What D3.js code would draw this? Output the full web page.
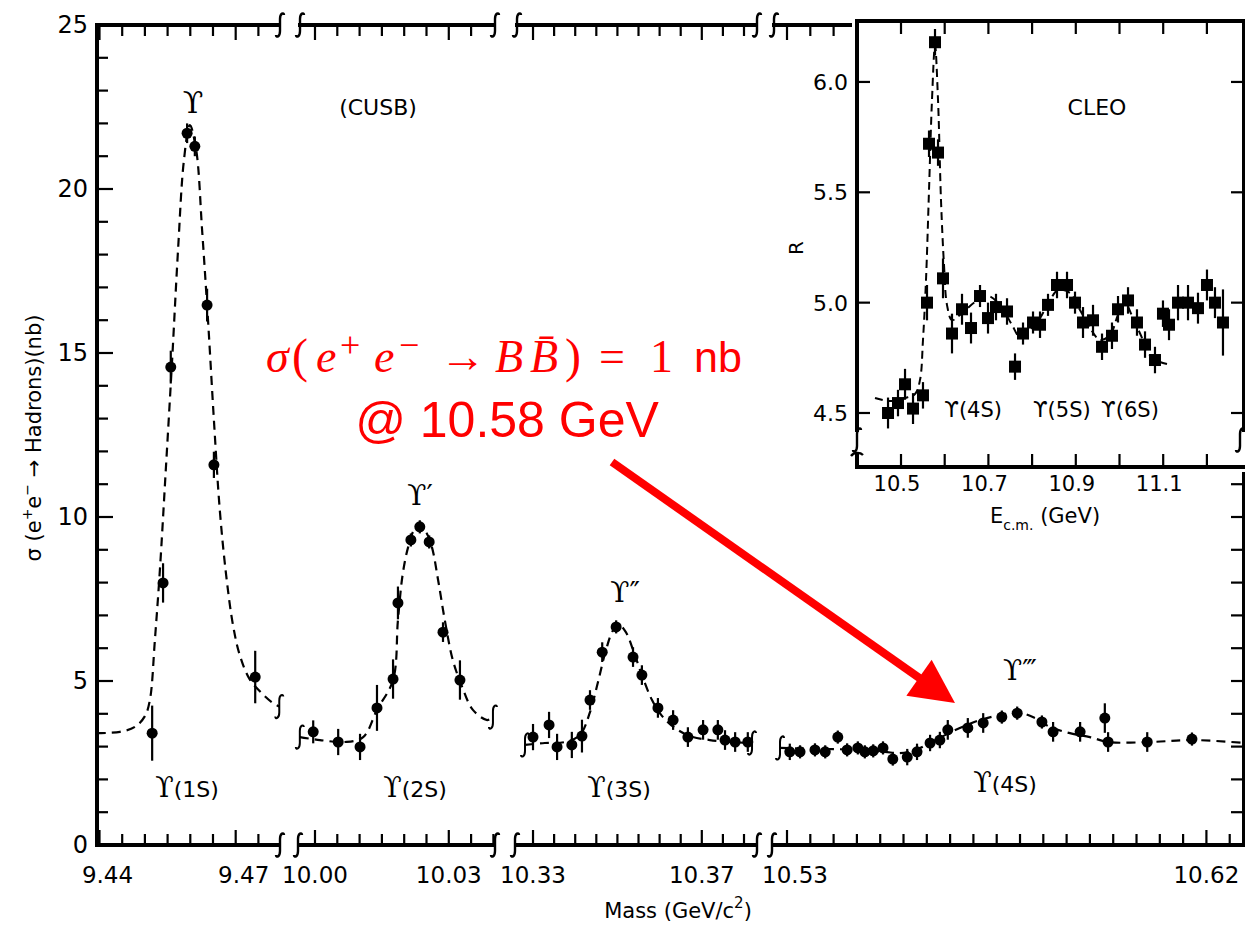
<!DOCTYPE html>
<html><head><meta charset="utf-8">
<script src="https://cdn.jsdelivr.net/npm/d3@7"></script>
<style>body{margin:0;background:#fff}svg{display:block}</style>
</head><body>
<svg id="c" width="1245" height="925"></svg>
<script>
// ---------------- DATA ----------------
// Mass-axis segments (GeV) of the broken axis
const segDomains = [[9.43945, 9.47976], [9.99619, 10.04036], [10.32573, 10.38308], [10.52678, 10.62828]];
const segTickLabels = [[9.44, 9.47], [10.00, 10.03], [10.33, 10.37], [10.53, 10.62]];
const yTickLabels = [0, 5, 10, 15, 20, 25];

// CUSB points: [mass GeV, sigma nb, error nb]
const pts1S = [[9.4516,3.41,0.84],[9.4540,7.99,0.6],[9.4557,14.57,0.5],[9.4593,21.7,0.3],[9.4610,21.3,0.3],[9.4637,16.46,0.5],[9.4652,11.59,0.4],[9.4743,5.12,0.8]];
const pts2S = [[9.9996,3.45,0.35],[10.0052,3.14,0.4],[10.0101,2.99,0.4],[10.0139,4.18,0.7],[10.0175,5.06,0.6],[10.0186,7.38,0.5],[10.0215,9.30,0.2],[10.0235,9.70,0.2],[10.0256,9.24,0.2],[10.0287,6.49,0.3],[10.0325,5.03,0.6]];
const pts3S = [[10.3300,3.29,0.4],[10.3338,3.66,0.4],[10.3357,2.99,0.4],[10.3392,3.05,0.4],[10.3416,3.32,0.5],[10.3435,4.42,0.3],[10.3464,5.88,0.3],[10.3497,6.65,0.2],[10.3537,5.73,0.3],[10.3558,5.18,0.3],[10.3596,4.18,0.3],[10.3632,3.81,0.3],[10.3667,3.29,0.3],[10.3703,3.51,0.3],[10.3738,3.51,0.3],[10.3755,3.20,0.3],[10.3779,3.14,0.3],[10.3809,3.14,0.3]];
const pts4S = [[10.5306,2.84,0.25],[10.5328,2.84,0.2],[10.5360,2.90,0.2],[10.5382,2.84,0.2],[10.5409,3.29,0.2],[10.5429,2.90,0.2],[10.5452,2.96,0.2],[10.5467,2.84,0.2],[10.5485,2.87,0.2],[10.5506,2.96,0.2],[10.5527,2.62,0.2],[10.5558,2.68,0.25],[10.5579,2.84,0.25],[10.5607,3.11,0.25],[10.5628,3.20,0.25],[10.5645,3.51,0.3],[10.5688,3.57,0.3],[10.5721,3.72,0.3],[10.5761,3.90,0.2],[10.5794,4.02,0.2],[10.5847,3.75,0.2],[10.5871,3.45,0.3],[10.5929,3.45,0.3],[10.5982,3.87,0.45],[10.5989,3.14,0.3],[10.6073,3.14,0.3],[10.6169,3.23,0.2]];

// Dashed fit curves: [mass GeV, sigma nb]
const fit1S = [[9.4394,3.41],[9.4445,3.45],[9.4478,3.60],[9.4500,3.93],[9.4511,4.42],[9.4522,6.25],[9.4533,8.38],[9.4546,11.43],[9.4560,14.79],[9.4573,18.14],[9.4586,20.88],[9.4599,21.95],[9.4613,21.19],[9.4626,18.75],[9.4639,16.01],[9.4652,12.96],[9.4665,10.21],[9.4679,8.23],[9.4694,6.71],[9.4709,5.79],[9.4731,5.05],[9.4758,4.62],[9.4780,4.35],[9.4796,4.22]];
const fit2S = [[9.9966,3.29],[10.0011,3.20],[10.0067,3.14],[10.0108,3.29],[10.0139,4.12],[10.0175,5.03],[10.0186,6.86],[10.0197,8.29],[10.0209,9.09],[10.0222,9.60],[10.0235,9.76],[10.0249,9.54],[10.0262,9.09],[10.0276,8.08],[10.0291,6.86],[10.0309,5.64],[10.0330,4.82],[10.0354,4.12],[10.0386,3.81],[10.0399,3.90]];
const fit3S = [[10.3281,3.05],[10.3328,3.11],[10.3376,3.14],[10.3411,3.35],[10.3435,4.05],[10.3454,4.97],[10.3473,5.95],[10.3490,6.55],[10.3504,6.71],[10.3520,6.49],[10.3539,5.88],[10.3558,5.18],[10.3582,4.42],[10.3606,3.93],[10.3636,3.57],[10.3672,3.32],[10.3719,3.20],[10.3767,3.14],[10.3819,3.11]];
const fit4S = [[10.5285,2.96],[10.5371,2.93],[10.5457,2.90],[10.5510,2.84],[10.5542,2.80],[10.5575,2.90],[10.5607,3.11],[10.5639,3.35],[10.5676,3.60],[10.5714,3.81],[10.5757,3.96],[10.5794,4.05],[10.5832,3.87],[10.5864,3.60],[10.5907,3.41],[10.5950,3.29],[10.5989,3.14],[10.6079,3.14],[10.6169,3.20],[10.6283,3.11]];

// CLEO inset: [E_cm GeV, R, error]
const cleoPts = [[10.4703,4.50,0.07],[10.4931,4.545,0.06],[10.5092,4.63,0.07],[10.5275,4.52,0.07],[10.5503,4.58,0.06],[10.5595,5.00,0.08],[10.5641,5.72,0.06],[10.5778,6.18,0.06],[10.5847,5.68,0.06],[10.5961,5.11,0.09],[10.6167,4.86,0.09],[10.6396,4.97,0.07],[10.6602,4.885,0.07],[10.6808,5.03,0.05],[10.6991,4.93,0.07],[10.7174,4.98,0.06],[10.7426,4.96,0.06],[10.7609,4.71,0.06],[10.7792,4.86,0.05],[10.8021,4.91,0.05],[10.8181,4.90,0.06],[10.8364,4.99,0.05],[10.8570,5.08,0.06],[10.8799,5.08,0.06],[10.8982,5.00,0.05],[10.9165,4.91,0.07],[10.9394,4.92,0.07],[10.9600,4.80,0.06],[10.9828,4.85,0.06],[10.9966,4.97,0.06],[11.0195,5.01,0.06],[11.0400,4.91,0.06],[11.0584,4.81,0.06],[11.0812,4.74,0.06],[11.0995,4.95,0.06],[11.1133,4.90,0.07],[11.1339,5.00,0.08],[11.1568,5.00,0.08],[11.1796,4.975,0.07],[11.2002,5.08,0.07],[11.2185,5.00,0.07],[11.2368,4.91,0.15]];
const cleoFit = [[10.4405,4.568],[10.4748,4.554],[10.5092,4.568],[10.5320,4.586],[10.5435,4.650],[10.5503,4.831],[10.5572,5.103],[10.5641,5.510],[10.5709,5.918],[10.5778,6.167],[10.5847,5.918],[10.5915,5.465],[10.5984,5.171],[10.6053,4.989],[10.6167,4.921],[10.6350,4.944],[10.6693,5.003],[10.6991,5.030],[10.7265,4.989],[10.7540,4.899],[10.7723,4.844],[10.7952,4.876],[10.8181,4.930],[10.8410,5.012],[10.8593,5.057],[10.8867,5.044],[10.9096,4.967],[10.9325,4.885],[10.9554,4.831],[10.9783,4.853],[10.9966,4.944],[11.0126,4.998],[11.0309,4.930],[11.0538,4.831],[11.0744,4.749],[11.0927,4.731],[11.1087,4.722]];
const cleoXTickLabels = [10.5, 10.7, 10.9, 11.1];
const cleoYTickLabels = [4.5, 5.0, 5.5, 6.0];
const cleoStates = [["ϒ(4S)", 10.665], ["ϒ(5S)", 10.868], ["ϒ(6S)", 11.024]];

// ---------------- DRAWING ----------------
const svg = d3.select('#c');
const FONT = "'DejaVu Sans', sans-serif";
const SERIF = "'DejaVu Serif', serif";
svg.append('rect').attr('width',1245).attr('height',925).attr('fill','#fff');

const yMain = d3.scaleLinear().domain([0,25]).range([845,25]);
const segPx = [[97,280],[298,495],[515,757],[772,1245]];
const segScales = segDomains.map((d,i)=>d3.scaleLinear().domain(d).range(segPx[i]));
const BOT = yMain(0), TOP = yMain(25);

const gAx = svg.append('g').attr('stroke','#000').attr('fill','none');

function brk(g, x, y, w) {
  w = w || 2.4;
  g.append('path')
   .attr('d', `M${x-4},${y+10} C${x-4},${y+13} ${x},${y+12} ${x},${y+6} L${x},${y-6} C${x},${y-12} ${x+4},${y-13} ${x+4},${y-10}`)
   .attr('stroke','#000').attr('stroke-width',w).attr('fill','none');
}
function stepTicks(d, step) {
  const k0 = Math.ceil(d[0]/step - 1e-6), k1 = Math.floor(d[1]/step + 1e-6);
  return d3.range(k0, k1+1).map(k => +(k*step).toFixed(4));
}

// left axis
gAx.append('line').attr('x1',97).attr('x2',97).attr('y1',TOP-2).attr('y2',BOT+2).attr('stroke-width',4);
d3.range(0,26).forEach(v=>{
  const L = v%5===0 ? 16 : 11;
  gAx.append('line').attr('x1',97).attr('x2',97+L).attr('y1',yMain(v)).attr('y2',yMain(v)).attr('stroke-width',2.2);
});
// right axis (mostly off-canvas)
gAx.append('line').attr('x1',1244).attr('x2',1244).attr('y1',TOP).attr('y2',BOT).attr('stroke-width',4);
d3.range(0,26).forEach(v=>{
  gAx.append('line').attr('x1',1244).attr('x2',1231).attr('y1',yMain(v)).attr('y2',yMain(v)).attr('stroke-width',2.2);
});
svg.append('g').selectAll('text').data(yTickLabels).join('text')
  .attr('x',88).attr('y',d=>yMain(d)+8).attr('text-anchor','end')
  .attr('font-family',FONT).attr('font-size',24).text(d=>d);

// bottom & top broken axes
segScales.forEach((s,i)=>{
  const [a,b] = segPx[i];
  const topEnd = i===3 ? 857 : b;
  gAx.append('line').attr('x1',a).attr('x2',b).attr('y1',BOT).attr('y2',BOT).attr('stroke-width',4);
  gAx.append('line').attr('x1',a).attr('x2',topEnd).attr('y1',TOP).attr('y2',TOP).attr('stroke-width',4);
  stepTicks(s.domain(), 0.005).forEach(t=>{
    const x = s(t);
    if (x < 99) return;
    const lab = segTickLabels[i].some(v=>Math.abs(v-t)<1e-6);
    const L = lab ? 15 : 11;
    gAx.append('line').attr('x1',x).attr('x2',x).attr('y1',BOT).attr('y2',BOT-L).attr('stroke-width',2.2);
    if (x < topEnd-2) gAx.append('line').attr('x1',x).attr('x2',x).attr('y1',TOP).attr('y2',TOP+L).attr('stroke-width',2.2);
  });
  svg.append('g').selectAll('text').data(segTickLabels[i]).join('text')
    .attr('x',d=>s(d)+(i===0||i===3&&d<10.6?8:0)).attr('y',BOT+38).attr('text-anchor','middle')
    .attr('font-family',FONT).attr('font-size',23).text(d=>d.toFixed(2));
  if (i>0) { brk(gAx, a, BOT); brk(gAx, a+2, TOP); }
  if (i<3) { brk(gAx, b, BOT); brk(gAx, b, TOP); }
});

// axis titles
svg.append('text').attr('x',678).attr('y',918).attr('text-anchor','middle')
  .attr('font-family',FONT).attr('font-size',21)
  .html('Mass (GeV/c<tspan dy="-10" font-size="15">2</tspan><tspan dy="10">)</tspan>');
svg.append('text').attr('transform','translate(41,438) rotate(-90)').attr('text-anchor','middle')
  .attr('font-family',FONT).attr('font-size',21)
  .html('σ (e<tspan dy="-9" font-size="14">+</tspan><tspan dy="9">e</tspan><tspan dy="-9" font-size="14">−</tspan><tspan dy="9"> → Hadrons)(nb)</tspan>');

// fits and points
const fits = [fit1S, fit2S, fit3S, fit4S];
const ptsets = [pts1S, pts2S, pts3S, pts4S];
fits.forEach((f,i)=>{
  const s = segScales[i];
  const line = d3.line().x(d=>s(d[0])).y(d=>yMain(d[1])).curve(d3.curveCatmullRom.alpha(0.5));
  svg.append('path').attr('d',line(f)).attr('fill','none').attr('stroke','#000')
    .attr('stroke-width',2.2).attr('stroke-dasharray','9,6');
  const g = svg.append('g');
  if (i>0) brk(g, s(f[0][0]), yMain(f[0][1]), 2);
  if (i<3) brk(g, s(f[f.length-1][0]), yMain(f[f.length-1][1]), 2);
});
ptsets.forEach((P,i)=>{
  const s = segScales[i];
  const g = svg.append('g');
  g.selectAll('line').data(P).join('line')
    .attr('x1',d=>s(d[0])).attr('x2',d=>s(d[0]))
    .attr('y1',d=>yMain(d[1]-d[2])).attr('y2',d=>yMain(d[1]+d[2]))
    .attr('stroke','#000').attr('stroke-width',2.2);
  g.selectAll('circle').data(P).join('circle')
    .attr('cx',d=>s(d[0])).attr('cy',d=>yMain(d[1])).attr('r',5.5).attr('fill','#000');
});

// main labels
function ups(x, y, main, rest, big) {
  const t = svg.append('text').attr('x',x).attr('y',y).attr('text-anchor','middle').attr('font-family',FONT).attr('font-size',22);
  t.append('tspan').attr('font-family',SERIF).attr('font-size',big||27).text(main);
  if (rest) t.append('tspan').text(rest);
}
ups(193,113,'ϒ','',30);
ups(420,505,'ϒ′','',28);
ups(625,602,'ϒ″','',28);
ups(1020,680,'ϒ‴','',28);
ups(187,797,'ϒ','(1S)');
ups(415,797,'ϒ','(2S)');
ups(619,797,'ϒ','(3S)');
ups(1005,792,'ϒ','(4S)');
svg.append('text').attr('x',378).attr('y',115).attr('text-anchor','middle').attr('font-family',FONT).attr('font-size',22).text('(CUSB)');

// ---------------- INSET ----------------
const xIn = d3.scaleLinear().domain([10.3993, 11.2872]).range([857,1245]);
const yIn = d3.scaleLinear().domain([4.2553, 6.2807]).range([467,20]);
const IL = 857, IB = 467, IT = 21;
svg.append('rect').attr('x',852).attr('y',14).attr('width',400).attr('height',458).attr('fill','#fff');
const gi = svg.append('g').attr('stroke','#000').attr('fill','none');
gi.append('line').attr('x1',IL-2).attr('x2',1245).attr('y1',IT).attr('y2',IT).attr('stroke-width',4);
gi.append('line').attr('x1',IL-2).attr('x2',1245).attr('y1',IB).attr('y2',IB).attr('stroke-width',4);
gi.append('line').attr('x1',IL).attr('x2',IL).attr('y1',IT).attr('y2',432).attr('stroke-width',4);
gi.append('line').attr('x1',IL).attr('x2',IL).attr('y1',452).attr('y2',IB).attr('stroke-width',4);
brk(gi, IL, 440, 2.4);
gi.append('path').attr('d',`M${IL-6},456 C${IL-3},452 ${IL+3},452 ${IL+6},455`).attr('stroke-width',2.4);
gi.append('line').attr('x1',1244).attr('x2',1244).attr('y1',IT).attr('y2',432).attr('stroke-width',4);
brk(gi, 1240, 440, 2.4);
stepTicks([10.41, 11.28], 0.1).forEach(t=>{
  gi.append('line').attr('x1',xIn(t)).attr('x2',xIn(t)).attr('y1',IB).attr('y2',IB-13).attr('stroke-width',2.2);
  gi.append('line').attr('x1',xIn(t)).attr('x2',xIn(t)).attr('y1',IT).attr('y2',IT+13).attr('stroke-width',2.2);
});
cleoYTickLabels.forEach(v=>{
  gi.append('line').attr('x1',IL).attr('x2',IL+13).attr('y1',yIn(v)).attr('y2',yIn(v)).attr('stroke-width',2.2);
  gi.append('line').attr('x1',1244).attr('x2',1231).attr('y1',yIn(v)).attr('y2',yIn(v)).attr('stroke-width',2.2);
});
svg.append('g').selectAll('text').data(cleoYTickLabels).join('text')
  .attr('x',848).attr('y',d=>yIn(d)+8).attr('text-anchor','end')
  .attr('font-family',FONT).attr('font-size',22).text(d=>d.toFixed(1));
svg.append('g').selectAll('text').data(cleoXTickLabels).join('text')
  .attr('x',d=>xIn(d)-4).attr('y',491).attr('text-anchor','middle')
  .attr('font-family',FONT).attr('font-size',21).text(d=>d.toFixed(1));
svg.append('text').attr('x',1045).attr('y',523).attr('text-anchor','middle')
  .attr('font-family',FONT).attr('font-size',21)
  .html('E<tspan dy="7" font-size="14">c.m.</tspan><tspan dy="-7"> (GeV)</tspan>');
svg.append('text').attr('transform','translate(803,248) rotate(-90)').attr('text-anchor','middle')
  .attr('font-family',FONT).attr('font-size',20).text('R');
svg.append('text').attr('x',1097).attr('y',115).attr('text-anchor','middle')
  .attr('font-family',FONT).attr('font-size',22).text('CLEO');
svg.append('g').selectAll('text').data(cleoStates).join('text')
  .attr('x',d=>xIn(d[1])).attr('y',417).attr('text-anchor','middle')
  .attr('font-family',FONT).attr('font-size',21).text(d=>d[0]);

const lineIn = d3.line().x(d=>xIn(d[0])).y(d=>yIn(d[1])).curve(d3.curveCatmullRom.alpha(0.5));
svg.append('path').attr('d',lineIn(cleoFit)).attr('fill','none').attr('stroke','#000')
  .attr('stroke-width',2).attr('stroke-dasharray','8,5');
const gp = svg.append('g');
gp.selectAll('line').data(cleoPts).join('line')
  .attr('x1',d=>xIn(d[0])).attr('x2',d=>xIn(d[0]))
  .attr('y1',d=>yIn(d[1]-d[2])).attr('y2',d=>yIn(d[1]+d[2]))
  .attr('stroke','#000').attr('stroke-width',2.2);
gp.selectAll('rect').data(cleoPts).join('rect')
  .attr('x',d=>xIn(d[0])-6).attr('y',d=>yIn(d[1])-6).attr('width',12).attr('height',12).attr('fill','#000');

// ---------------- ANNOTATION ----------------
const red = '#ff0000';
const SER = "'Liberation Serif', serif";
const ann = svg.append('text').attr('fill',red).attr('font-family',SER).attr('font-size',46);
const toks = [
  ['σ',266,372,'italic',46],['(',292,372,'normal',48],['e',316,372,'italic',46],['+',340,357,'normal',36],
  ['e',374,372,'italic',46],['−',399,357,'normal',36],['→',440,372,'normal',46],['B',495,372,'italic',46],
  ['B̄',530,372,'italic',46],[')',565,372,'normal',48],['=',599,372,'normal',46],['1',650,372,'normal',46]
];
toks.forEach(t=>ann.append('tspan').attr('x',t[1]).attr('y',t[2]).attr('font-style',t[3]).attr('font-size',t[4]).text(t[0]));
ann.append('tspan').attr('x',694).attr('y',372).attr('font-family',"'Liberation Sans', sans-serif").attr('font-size',43).text('nb');
svg.append('text').attr('x',507).attr('y',437).attr('text-anchor','middle').attr('fill',red)
  .attr('font-family',"'Liberation Sans', sans-serif").attr('font-size',50).text('@ 10.58 GeV');
// arrow
const aS = [612,462], aT = [955,703];
const ux = (aT[0]-aS[0]), uy = (aT[1]-aS[1]); const ln = Math.hypot(ux,uy);
const u = [ux/ln, uy/ln], n = [-u[1], u[0]];
const hl = 44, hw = 22;
const bc = [aT[0]-hl*u[0], aT[1]-hl*u[1]];
svg.append('line').attr('x1',aS[0]).attr('y1',aS[1]).attr('x2',bc[0]+2*u[0]).attr('y2',bc[1]+2*u[1])
  .attr('stroke',red).attr('stroke-width',8);
svg.append('path').attr('d',`M${aT[0]},${aT[1]} L${bc[0]+hw*n[0]},${bc[1]+hw*n[1]} L${bc[0]-hw*n[0]},${bc[1]-hw*n[1]} Z`).attr('fill',red);
</script>
</body></html>
